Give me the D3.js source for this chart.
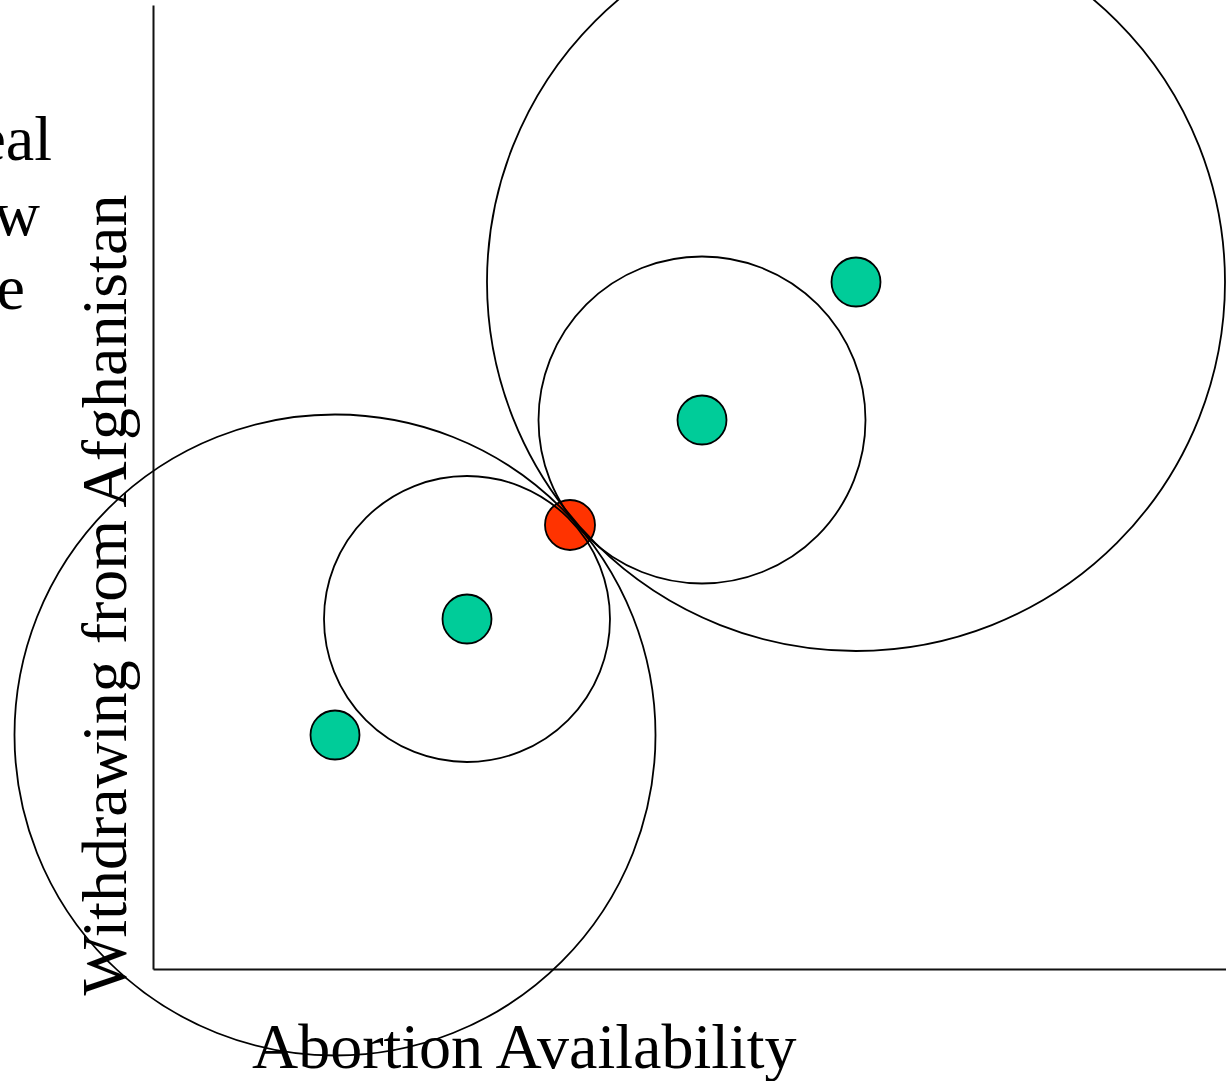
<!DOCTYPE html>
<html>
<head>
<meta charset="utf-8">
<script src="https://cdn.jsdelivr.net/npm/d3@7"></script>
<style>
  html, body { margin: 0; padding: 0; background: #fff; overflow: hidden; }
  svg { display: block; }
  text { font-family: "Liberation Serif", "Times New Roman", serif; fill: #000; }
</style>
</head>
<body>
<script>
// ---- data (issue-space units) ----
const voterNames = ["A", "B", "C", "D"];
const voterX = [70.3, 54.9, 31.4, 18.2];
const voterY = [68.7, 54.9, 35.0, 23.4];
const curveRadius = [36.9, 16.35, 14.3, 32.05];
const statusQuoX = [41.7];
const statusQuoY = [44.4];
const xLabel = "Abortion Availability";
const yLabel = "Withdrawing from Afghanistan";
const sideText = ["eal", "w", "e"];

const W = 1226, H = 1081;
const svg = d3.select("body").append("svg").attr("width", W).attr("height", H);

const x = d3.scaleLinear().domain([0, 107.3]).range([153, 1226]);
const y = d3.scaleLinear().domain([0, 96.4]).range([969, 5]);
const r = d3.scaleLinear().domain([0, 10]).range([0, 100]);

// side text (clipped at the left edge, as in the original)
const sideG = svg.append("g");
const sideX = [52, 40, 25];
const sideY = [160, 235, 309];
sideText.forEach((t, i) => {
  sideG.append("text").attr("x", sideX[i]).attr("y", sideY[i])
    .attr("text-anchor", "end").attr("font-size", 64).text(t);
});

// axis labels
svg.append("text").attr("x", 252).attr("y", 1068)
  .attr("font-size", 64).text(xLabel);
svg.append("text")
  .attr("transform", `translate(126,${(995 + 195) / 2}) rotate(-90)`)
  .attr("text-anchor", "middle").attr("font-size", 64).text(yLabel);

// axes
const xAxis = d3.axisBottom(x).tickValues([]).tickSizeOuter(0);
const yAxis = d3.axisLeft(y).tickValues([]).tickSizeOuter(0);
svg.append("g").attr("transform", `translate(0,${y(0)})`).call(xAxis)
  .select(".domain").attr("stroke", "#111").attr("stroke-width", 2);
svg.append("g").attr("transform", `translate(${x(0)},0)`).call(yAxis)
  .select(".domain").attr("stroke", "#111").attr("stroke-width", 2);

const voters = voterNames.map((n, i) => ({ n, x: voterX[i], y: voterY[i], r: curveRadius[i] }));

// status quo (drawn beneath the curves)
svg.append("g").selectAll("circle").data(statusQuoX.map((v, i) => ({ x: v, y: statusQuoY[i] }))).join("circle")
  .attr("cx", d => x(d.x)).attr("cy", d => y(d.y)).attr("r", 25)
  .attr("fill", "#FF3300").attr("stroke", "#000").attr("stroke-width", 1.8);

// indifference circles
svg.append("g").selectAll("circle").data(voters).join("circle")
  .attr("cx", d => x(d.x)).attr("cy", d => y(d.y)).attr("r", d => r(d.r))
  .attr("fill", "none").attr("stroke", "#000").attr("stroke-width", 1.8);

// voter ideal points
svg.append("g").selectAll("circle").data(voters).join("circle")
  .attr("cx", d => x(d.x)).attr("cy", d => y(d.y)).attr("r", 24.5)
  .attr("fill", "#00CC99").attr("stroke", "#000").attr("stroke-width", 1.8);
</script>
</body>
</html>
